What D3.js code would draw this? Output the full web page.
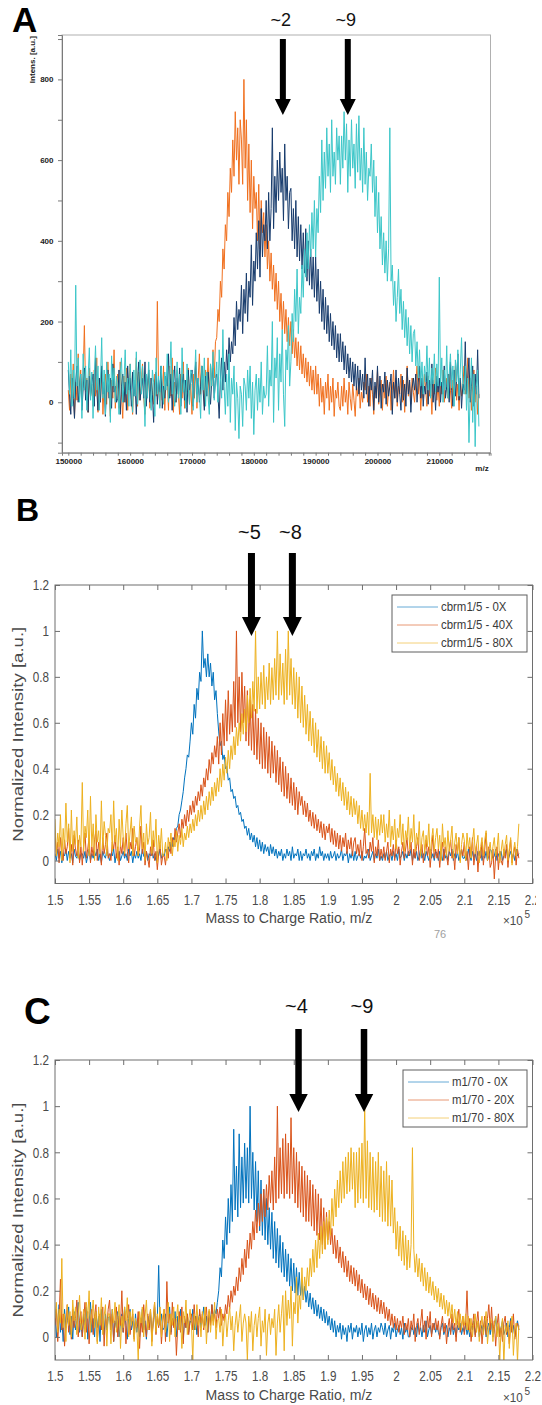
<!DOCTYPE html>
<html>
<head>
<meta charset="utf-8">
<title>Mass spectra</title>
<script src="https://cdn.jsdelivr.net/npm/d3@7"></script>
<style>
  body { margin: 0; background: #fff; }
  svg { display: block; font-family: "Liberation Sans", Arial, sans-serif; }
</style>
</head>
<body>
<svg id="figure" width="542" height="1405"></svg>
<script>
// ---- panel A: m/z grid (step 200) and the three spectra, Intens. [a.u.]
const mzA = d3.range(150000, 216401, 200);
const specOrangeA = [
  30,-20,70,10,95,-35,50,5,120,20,80,-10,65,190,25,60,-25,85,15,45,
  -10,80,15,110,-25,60,5,90,-30,45,70,-5,100,20,-35,55,10,130,-15,40,
  70,-15,100,20,-40,65,0,85,-20,40,95,10,-30,55,20,110,-10,75,5,50,
  95,10,-30,55,20,80,-15,60,30,-5,70,15,250,40,-10,75,5,90,-20,60,
  60,-20,90,15,110,-25,50,0,80,20,-30,70,10,100,-15,55,25,85,-5,45,
  -30,70,10,100,-15,55,120,20,90,60,-10,80,30,110,0,95,40,130,60,150,
  160,230,200,300,260,380,330,440,400,520,460,580,520,650,560,720,600,680,540,700,
  650,540,800,580,700,500,640,470,600,430,560,480,520,400,540,380,500,420,470,360,
  440,330,400,300,370,280,340,250,320,230,300,200,270,180,250,170,230,150,210,140,
  200,120,180,110,160,90,150,80,140,70,120,60,110,50,100,40,90,30,80,20,
  90,20,70,-10,60,0,40,-30,50,10,70,-20,40,0,60,-35,30,10,50,-10,
  -20,40,-10,60,0,30,-30,50,10,-20,45,5,-35,40,15,60,-15,25,0,50,
  30,70,0,40,-10,60,20,-30,40,10,80,-5,35,55,-20,45,10,65,-10,30,
  50,-20,30,80,10,60,-10,40,20,70,0,55,-25,35,90,15,50,-5,60,25,
  0,50,90,20,60,-20,40,10,70,30,-10,65,15,45,-30,55,20,85,5,40,
  -10,50,20,80,0,40,60,10,70,30,-15,55,25,90,5,45,-20,60,15,35,
  90,20,50,110,10,60,-20,40,80,0,55,-30,20];
const specNavyA = [
  80,20,-30,60,10,-40,50,90,0,40,70,-20,35,85,5,55,-25,65,15,45,
  70,-10,110,30,-20,60,0,90,20,50,-35,45,80,10,60,-15,95,25,40,0,
  10,80,-30,40,70,0,50,-20,90,30,60,-10,75,15,45,-30,55,100,5,35,
  60,10,100,-10,40,80,0,60,20,-50,45,75,-5,55,25,90,-15,40,10,65,
  40,120,10,70,-20,50,90,0,60,20,85,-10,45,70,5,55,-25,80,30,50,
  80,-10,50,100,20,60,0,40,90,30,-20,65,15,75,40,-5,55,85,10,60,
  70,20,-40,60,110,30,100,50,130,80,160,100,150,120,210,140,250,180,230,200,
  290,170,280,220,320,200,300,260,390,240,350,300,420,330,450,310,480,360,440,400,
  500,380,520,400,480,680,430,560,470,600,500,620,520,580,450,640,500,560,430,520,
  530,400,480,380,500,360,460,350,440,330,420,320,430,300,400,290,380,280,360,260,
  360,250,330,220,300,200,280,180,260,170,240,150,220,140,200,130,190,110,170,100,
  170,100,150,80,140,70,120,60,110,50,100,40,95,30,90,20,80,30,70,10,
  110,20,70,-10,60,30,80,-20,50,10,90,0,65,-15,45,25,75,-5,55,15,
  40,70,-30,50,10,80,0,60,20,-20,65,5,45,-10,85,20,55,-25,35,60,
  30,70,0,50,90,10,60,-10,40,20,75,-5,55,15,95,0,45,-20,65,25,
  60,0,50,20,90,10,40,70,0,100,30,-10,80,15,55,120,5,60,-15,45,
  30,150,20,60,110,0,40,90,-10,70,20,130,10];
const specCyanA = [
  100,20,130,-10,80,10,290,40,110,0,70,-40,120,30,90,-20,60,135,5,75,
  -40,60,140,30,90,-20,50,160,10,80,-30,100,25,70,-50,115,40,85,0,65,
  30,-30,70,110,0,50,130,20,60,-10,95,35,-25,80,15,125,-5,55,105,20,
  90,40,-60,70,10,100,30,-20,80,50,-35,110,20,65,-15,90,45,-5,75,30,
  120,0,60,150,20,80,-10,40,100,10,70,-30,135,25,55,-15,95,35,-5,80,
  70,-20,50,130,0,60,20,-40,90,30,110,-10,75,15,-30,95,40,125,5,60,
  100,0,130,60,10,180,40,-30,70,-10,120,-50,60,20,90,-70,50,10,-90,40,
  20,-60,60,40,-20,80,10,90,-40,50,-80,30,70,-20,60,0,100,-30,40,10,
  20,140,-10,80,40,200,-50,110,60,160,-20,120,50,180,20,-60,130,80,190,40,
  100,220,150,280,200,330,170,260,220,340,260,380,310,420,330,440,360,470,380,500,
  360,480,420,560,470,650,500,620,530,680,560,640,520,700,560,620,540,680,600,660,
  540,660,580,720,600,690,520,650,560,700,580,640,530,690,570,710,550,630,520,680,
  540,620,500,580,560,640,520,600,460,560,420,520,380,460,340,420,320,400,300,380,
  680,300,340,240,300,200,260,330,220,280,180,250,160,230,140,210,120,190,100,170,
  180,90,150,60,130,40,100,20,90,50,140,30,110,10,85,45,120,25,95,40,
  310,40,110,0,80,30,140,10,70,120,35,90,-10,105,50,130,15,80,160,40,
  20,90,-20,60,-100,30,110,-50,70,-110,40,80,-60];
const arrowMzA = [184700, 195200];
const arrowTextA = ["~2", "~9"];
const xTicksA = d3.range(150000, 218001, 2000);
const yTicksA = d3.range(-100, 901, 100);

// ---- panels B and C: m/z in units of 1e5 (step 0.002), normalized intensity
const mzBC = d3.range(0, 341).map(i => 1.5 + i * 0.002);
const int0xB = [
  0.03,0,0.05,0.01,0.04,-0.01,0.03,0.02,0.05,0,0.04,0.01,0.03,-0.01,0.05,0.02,0.01,0.04,0,0.03,
  0.03,0.01,0.04,-0.01,0.02,0.05,0,0.03,0.01,0.04,0.02,0.05,0,0.03,-0.01,0.04,0.02,0.01,0.05,0.02,
  0,0.03,0.02,0.05,-0.01,0.03,0.01,0.04,0,0.02,0.04,0.01,0.03,0,0.05,0.02,0.04,-0.01,0.03,0.01,
  0.04,0.01,0.03,0,0.05,0.02,0.01,0.04,0,0.03,0.02,0.05,0.01,0.03,0,0.04,0.02,0.05,0.01,0.03,
  0.02,0.05,0.03,0.06,0.04,0.08,0.06,0.1,0.09,0.14,0.15,0.2,0.22,0.26,0.3,0.36,0.4,0.46,0.45,0.52,
  0.6,0.55,0.68,0.62,0.75,0.7,0.82,0.78,1,0.84,0.88,0.8,0.9,0.8,0.86,0.76,0.82,0.7,0.74,0.64,
  0.56,0.5,0.52,0.44,0.46,0.4,0.41,0.35,0.36,0.3,0.31,0.27,0.28,0.23,0.24,0.2,0.21,0.17,0.18,0.14,
  0.15,0.11,0.14,0.09,0.12,0.08,0.11,0.06,0.1,0.05,0.09,0.04,0.08,0.03,0.07,0.04,0.06,0.02,0.07,0.03,
  0.06,0.02,0.05,0.01,0.04,0.02,0.05,0,0.03,0.01,0.05,0.02,0.04,0,0.06,0.01,0.03,0.02,0.05,0,
  0.04,0,0.03,0.02,0.05,0.01,0.03,0,0.04,0.02,0.05,0,0.03,0.01,0.06,0.02,0.04,0,0.03,0.01,
  0.03,0,0.04,0.01,0.02,0.04,0,0.03,0.01,0.02,0.05,0,0.03,0.02,0.04,-0.01,0.03,0.01,0.04,0,
  0.04,0,0.02,0.03,0.01,0.04,0,0.02,0.01,0.03,0.05,0,0.02,0.04,0,0.03,0.01,0.05,0,0.02,
  0,0.03,0.01,0.04,0,0.02,0.03,0,0.04,0.01,0.03,0,0.05,0.01,0.02,0.04,0,0.03,0.01,0.04,
  0.02,0.05,0,0.03,0.01,0.04,0,0.02,0.05,0.01,0.03,0,0.04,0.02,0,0.05,0.01,0.03,0,0.04,
  0.03,0,0.04,0.02,0,0.05,0.01,0.03,0,0.04,0.02,0.05,0,0.03,0.01,0.04,0,0.02,0.05,0.01,
  0.01,0.03,0,0.05,0.02,0,0.04,0.01,0.03,0,0.04,0.02,0.05,0,0.03,0.01,0.04,0,0.02,0.05,
  0.04,0.01,0.02,0.05,0,0.03,0.01,0.04,0,0.02,0.03,0.05,0,0.02,0.04,0.01,0.03,0,0.05,0.02,0.03];
const int40xB = [
  0.12,0.02,0.08,-0.01,0.1,0.04,0,0.09,0.03,0.06,0.14,0.01,0.07,-0.02,0.11,0.05,0.02,0.09,-0.01,0.06,
  -0.02,0.07,0.12,0.01,0.05,0.1,-0.01,0.06,0.02,0.09,0.13,0,0.08,0.04,-0.02,0.1,0.03,0.07,0.12,0.01,
  0.03,0,0.08,0.05,0.11,0.01,0.06,-0.02,0.07,0.03,0.1,0.02,0.12,0.04,-0.01,0.08,0.05,0.14,0.02,0.06,
  0.1,0.02,0.05,0.15,0.03,0.08,-0.02,0.04,0.01,-0.03,0.06,0.02,0.09,0,0.04,-0.04,0.03,0.07,-0.02,0.02,
  0.02,-0.02,0.05,0.01,0.08,0.03,0.1,0.06,0.14,0.08,0.12,0.16,0.1,0.18,0.14,0.2,0.15,0.22,0.17,0.24,
  0.2,0.26,0.21,0.28,0.24,0.3,0.26,0.33,0.28,0.36,0.32,0.4,0.35,0.44,0.38,0.47,0.42,0.5,0.45,0.54,
  0.42,0.6,0.46,0.64,0.5,0.7,0.52,0.74,0.55,0.68,0.56,0.78,0.58,1,0.6,0.8,0.56,0.82,0.6,0.76,
  0.52,0.74,0.5,0.7,0.48,0.68,0.46,0.66,0.44,0.62,0.42,0.6,0.4,0.58,0.4,0.56,0.38,0.54,0.36,0.52,
  0.38,0.5,0.34,0.48,0.33,0.45,0.3,0.43,0.28,0.41,0.27,0.38,0.25,0.36,0.24,0.34,0.22,0.32,0.2,0.3,
  0.24,0.28,0.2,0.26,0.19,0.25,0.17,0.22,0.15,0.21,0.14,0.2,0.13,0.18,0.12,0.17,0.1,0.16,0.09,0.15,
  0.12,0.16,0.08,0.14,0.07,0.13,0.06,0.12,0.05,0.11,0.04,0.1,0.06,0.12,0.03,0.09,0.05,0.1,0.02,0.08,
  0.1,0.03,0.07,0.02,0.09,0,0.06,0.14,0.03,0.05,0.01,0.08,0.04,0.1,-0.01,0.06,0.02,0.09,0,0.05,
  0.01,0.06,0,0.04,0.08,-0.01,0.05,0.02,0.07,0,0.09,0.03,0.06,-0.02,0.04,0.08,0.01,0.05,0.1,0.02,
  0.04,0.08,-0.02,0.05,0.01,0.06,0.1,0,0.03,0.07,-0.01,0.05,0.09,0.02,0.06,-0.03,0.04,0.11,0.01,0.05,
  0.01,0.05,-0.03,0.04,0.08,0,0.06,0.02,-0.02,0.05,0.09,0.01,0.04,-0.04,0.07,0.03,0.1,0,0.05,0.02,
  0.08,0,0.04,-0.04,0.06,0.02,0.1,-0.02,0.03,0.07,-0.05,0.04,0.01,0.08,-0.02,0.05,0.12,0,0.06,-0.03,
  -0.01,0.05,-0.08,0.02,0.06,-0.04,0.04,0,-0.02,0.05,0.01,0.07,-0.03,0.04,0.09,-0.01,0.03,0.06,-0.02,0.05,0.01];
const int80xB = [
  0.18,0.02,0.12,0.06,0.2,0,0.14,0.05,0.25,0.08,0.16,-0.01,0.22,0.04,0.13,0.07,0.19,0.01,0.11,0.06,
  0.34,0.04,0.15,0.1,0.22,0.02,0.28,0.06,0.16,0,0.2,0.08,0.13,0.03,0.26,0.05,0.17,0.11,0.02,0.14,
  0.12,0.2,0.04,0.26,0.08,0.14,0,0.18,0.06,0.22,0.1,0.03,0.16,0.24,0.05,0.12,0.19,0.02,0.15,0.08,
  0.1,0.02,0.15,0.24,0.05,0.12,0,0.16,0.07,0.1,0.21,0.03,0.13,0.06,0.18,-0.01,0.11,0.05,0.14,0.02,
  0.03,0.08,0,0.1,0.05,0.12,0.02,0.09,0.06,0.13,0.04,0.11,0.07,0.14,0.06,0.12,0.09,0.15,0.1,0.16,
  0.12,0.18,0.13,0.2,0.15,0.22,0.17,0.24,0.18,0.26,0.2,0.28,0.22,0.3,0.24,0.32,0.26,0.34,0.28,0.36,
  0.3,0.4,0.32,0.42,0.35,0.45,0.38,0.48,0.4,0.5,0.44,0.54,0.46,0.58,0.5,0.6,0.52,0.64,0.55,0.66,
  0.56,0.72,0.6,0.75,0.62,0.78,0.65,1,0.64,0.8,0.66,0.82,0.68,0.85,0.66,0.8,0.7,0.86,0.68,0.84,
  0.7,0.88,0.72,1,0.7,0.9,0.72,0.86,0.68,0.92,0.7,1,0.72,0.88,0.68,0.84,0.66,0.82,0.62,0.8,
  0.6,0.76,0.58,0.72,0.55,0.68,0.52,0.65,0.5,0.62,0.47,0.6,0.45,0.57,0.43,0.54,0.4,0.52,0.38,0.5,
  0.38,0.47,0.35,0.44,0.33,0.41,0.3,0.38,0.28,0.36,0.26,0.34,0.24,0.32,0.22,0.3,0.2,0.28,0.19,0.27,
  0.2,0.26,0.16,0.24,0.14,0.22,0.13,0.2,0.12,0.21,0.11,0.38,0.12,0.2,0.1,0.19,0.09,0.18,0.11,0.2,
  0.12,0.2,0.08,0.16,0.1,0.22,0.06,0.15,0.09,0.18,0.05,0.14,0.1,0.2,0.07,0.16,0.04,0.13,0.09,0.19,
  0.05,0.14,0.08,0.2,0.04,0.12,0.07,0.17,0.02,0.1,0.13,0.03,0.11,0.06,0.16,0.01,0.09,0.14,0.04,0.1,
  0.14,0.05,0.11,0,0.16,0.06,0.1,0.02,0.13,0.04,0.09,0.15,0.01,0.08,0.12,0.03,0.1,-0.01,0.07,0.12,
  0.09,0,0.12,0.05,0.1,0.01,0.08,0.14,0.03,0.07,0.11,-0.01,0.06,0.1,0.02,0.09,0.13,0,0.05,0.08,
  0,0.06,0.1,0.02,0.05,0.12,-0.01,0.04,0.09,0.02,0.07,0.11,0,0.05,0.1,-0.02,0.04,0.08,0.02,0.06,0.16];
const int0xC = [
  0.1,0,0.06,0.14,0.02,0.08,-0.02,0.12,0.04,0.07,0.13,0.01,0.09,-0.01,0.11,0.03,0.07,0.15,0.02,0.06,
  0,0.1,0.05,0.13,-0.01,0.06,0.15,0.02,0.08,0,0.11,0.04,0.09,-0.02,0.12,0.05,0.01,0.1,0.03,0.08,
  0.09,0.03,0.12,-0.02,0.07,0.04,0.11,0,0.06,0.1,0.02,0.13,0.05,-0.01,0.08,0.12,0.03,0.07,0,0.1,
  0.02,0.08,0,0.05,0.12,0.03,0.07,-0.01,0.09,0.04,0.11,0.01,0.06,0.13,0.02,0.08,0.31,0.05,0.1,0.03,
  0.04,0.1,0,0.07,0.13,0.02,0.08,0.05,0.11,0,0.09,0.03,0.12,0.06,-0.01,0.08,0.04,0.1,0.02,0.07,
  0.06,0.12,0.03,0.09,0.01,0.07,0.1,0.04,0.08,0.13,0.05,0.09,0.02,0.11,0.06,0.14,0.08,0.12,0.1,0.15,
  0.2,0.3,0.26,0.42,0.34,0.52,0.4,0.6,0.45,0.66,0.5,0.9,0.55,0.74,0.52,0.88,0.56,0.78,0.58,0.84,
  0.6,0.82,0.58,1,0.6,0.8,0.55,0.76,0.5,0.72,0.46,0.68,0.44,0.64,0.42,0.6,0.4,0.56,0.38,0.54,
  0.34,0.5,0.32,0.47,0.3,0.44,0.28,0.41,0.26,0.38,0.24,0.36,0.22,0.34,0.2,0.32,0.19,0.3,0.18,0.28,
  0.18,0.24,0.16,0.22,0.15,0.2,0.13,0.19,0.12,0.17,0.1,0.16,0.09,0.14,0.08,0.13,0.07,0.12,0.06,0.11,
  0.05,0.09,0.03,0.08,0.02,0.07,0,0.05,0.02,0.06,-0.01,0.05,0.01,0.04,-0.02,0.05,0.02,0.06,-0.01,0.04,
  0.02,0.05,0,0.04,0.01,0.06,-0.02,0.03,0.05,0,0.04,0.01,0.06,-0.01,0.03,0.05,0,0.04,0.02,0.06,
  0.04,0.01,0.06,0,0.03,0.05,-0.01,0.04,0.02,0.06,0,0.03,0.05,0.01,0.04,-0.01,0.06,0.02,0.04,0,
  0,0.03,0.05,0.01,0.04,0,0.06,0.02,0.04,0,0.05,0.02,0.07,0,0.03,0.05,0.01,0.04,0.06,0.02,
  0.05,0.02,0,0.04,0.06,0.01,0.03,0.05,0,0.04,0.02,0.06,0.01,0.04,0,0.05,0.03,0.06,0.01,0.04,
  0.02,0.06,0.01,0.04,0,0.05,0.03,0.07,0.01,0.04,0.06,0,0.03,0.05,0.02,0.07,0,0.04,0.06,0.01,
  0.06,0,0.03,0.09,0.02,0.05,0,0.04,0.07,0.01,0.03,0.06,0,0.04,0.08,0.02,0.05,0,0.04,0.07,0.03];
const int20xC = [
  0.05,0.12,-0.02,0.08,0.25,0.03,0.1,-0.04,0.06,0.14,0.02,0.09,-0.01,0.12,0.04,0.08,0.16,0,0.07,0.11,
  0,0.08,0.15,0.02,0.11,-0.03,0.07,0.12,0.01,0.09,0.14,-0.02,0.06,0.1,0.03,0.13,-0.04,0.08,0.05,0.12,
  0.16,0.03,0.1,-0.02,0.07,0.13,0,0.09,0.05,0.2,0.02,0.11,-0.03,0.08,0.14,0.01,0.06,0.1,-0.01,0.07,
  0.04,0.11,-0.05,0.08,0.02,0.14,0.06,0,0.1,0.03,0.12,-0.02,0.07,0.15,0.01,0.09,0.04,0.11,-0.03,0.06,
  0.12,-0.02,0.24,0.06,0.1,0.01,0.15,0.04,0.08,-0.08,0.05,0.11,0.02,0.13,-0.03,0.09,0.04,0.1,0.01,0.07,
  0.1,0.03,0.14,0.05,0.09,0,0.12,0.06,0.1,0.03,0.08,0.13,0.02,0.11,0.05,0.14,0.07,0.1,0.04,0.12,
  0.08,0.13,0.05,0.1,0.07,0.14,0.1,0.18,0.12,0.2,0.15,0.22,0.18,0.26,0.2,0.3,0.24,0.34,0.27,0.38,
  0.3,0.42,0.34,0.45,0.38,0.5,0.42,0.55,0.45,0.58,0.48,0.62,0.5,0.64,0.52,0.66,0.55,0.7,0.58,0.72,
  0.55,0.78,0.58,1,0.6,0.82,0.62,0.86,0.6,0.88,0.62,0.84,0.6,0.95,0.62,0.82,0.58,0.8,0.56,0.76,
  0.54,0.74,0.52,0.72,0.5,0.7,0.5,0.68,0.48,0.66,0.46,0.64,0.44,0.62,0.42,0.6,0.4,0.56,0.38,0.54,
  0.42,0.5,0.4,0.47,0.36,0.44,0.34,0.42,0.32,0.39,0.3,0.37,0.28,0.35,0.26,0.33,0.24,0.31,0.23,0.3,
  0.22,0.29,0.2,0.27,0.19,0.25,0.17,0.23,0.16,0.22,0.14,0.21,0.13,0.19,0.12,0.18,0.11,0.17,0.1,0.16,
  0.1,0.15,0.08,0.13,0.07,0.12,0.05,0.1,0.04,0.09,0.03,0.08,0.02,0.07,0.04,0.09,0.01,0.06,0.03,0.08,
  0,0.07,0.03,0.1,-0.02,0.05,0.08,0.01,0.06,0.12,0.02,0.07,-0.01,0.09,0.04,0.11,0,0.06,0.03,0.08,
  0.03,0.07,-0.01,0.05,0.09,0.02,0.06,-0.03,0.04,0.08,0.01,0.1,0.03,0.06,-0.02,0.07,0.12,0.02,0.05,0.09,
  0.01,0.06,0.2,0.03,0.08,-0.02,0.05,0.1,0,0.06,0.11,0.02,0.07,-0.03,0.04,0.09,0.01,0.08,0.14,0.03,
  0.13,0.02,0.07,-0.04,0.05,0.1,0,0.04,-0.02,0.06,0.09,0.01,0.05,-0.03,0.07,0.02,0.1,-0.01,0.04,0.06,0.03];
const int80xC = [
  0.08,0.15,0.02,0.12,0.06,0.34,0.04,0.1,-0.02,0.14,0.05,0.11,0,0.16,0.07,0.13,0.01,0.09,0.18,0.03,
  0.06,0.12,-0.01,0.15,0.08,0.2,0.02,0.1,0.16,0.04,0.11,-0.03,0.13,0.05,0.17,0.01,0.09,0.14,-0.04,0.1,
  0.1,-0.03,0.12,0.06,0.15,0.02,0.08,0.14,-0.05,0.09,0.04,0.13,0.07,0.17,0,0.11,0.05,0.12,-0.02,0.08,
  0.04,-0.1,0.11,0.06,0.13,0,0.09,0.16,0.03,0.07,0.12,-0.04,0.08,0.15,0.02,0.1,0.05,0.13,0,0.09,
  0.12,0.02,0.08,0.15,-0.02,0.1,0.05,0.13,0,0.08,0.14,0.03,0.09,-0.05,0.11,0.06,0.16,0.01,0.07,0.12,
  0.06,-0.1,0.1,0.03,0.14,0.05,0.09,0,0.11,0.04,0.13,-0.03,0.08,0.12,0.02,0.1,0.05,0.15,-0.01,0.07,
  0.08,0.02,0.12,-0.04,0.06,0.1,0,0.07,0.13,0.03,0.09,-0.06,0.05,0.11,0.02,0.08,0.14,-0.02,0.06,0.1,
  0.06,-0.1,0.09,0.02,0.11,-0.06,0.05,0.1,0,0.08,0.13,-0.04,0.07,0.02,0.12,-0.08,0.06,0.1,0.01,0.08,
  0.04,0.12,-0.08,0.06,0.14,0.02,0.1,0.18,-0.06,0.2,0.05,0.16,0.08,0.22,-0.04,0.15,0.1,0.26,0.06,0.18,
  0.12,0.3,0.16,0.26,0.2,0.3,0.22,0.34,0.26,0.38,0.28,0.42,0.3,0.45,0.34,0.48,0.36,0.5,0.38,0.52,
  0.4,0.55,0.44,0.6,0.48,0.64,0.52,0.68,0.56,0.72,0.58,0.76,0.6,0.78,0.62,0.8,0.63,0.82,0.64,0.8,
  0.56,0.8,0.58,0.82,0.6,0.84,0.58,1,0.6,0.85,0.56,0.8,0.55,0.78,0.54,0.76,0.55,0.8,0.52,0.74,
  0.5,0.72,0.5,0.76,0.48,0.7,0.48,0.68,0.45,0.56,0.38,0.5,0.35,0.48,0.33,0.46,0.31,0.44,0.29,0.42,
  0.3,0.4,0.82,0.38,0.28,0.36,0.26,0.34,0.24,0.32,0.22,0.3,0.2,0.28,0.19,0.26,0.18,0.24,0.16,0.22,
  0.15,0.21,0.13,0.19,0.12,0.18,0.1,0.16,0.09,0.15,0.08,0.14,0.06,0.12,0.05,0.11,0.04,0.1,0.03,0.09,
  0.05,0.1,0.03,0.09,0.02,0.08,0,0.06,0.1,0.02,0.07,-0.02,0.05,0.09,0.01,0.06,0.11,-0.03,0.04,0.08,
  0.07,-0.02,0.05,0.09,0,0.06,-0.1,0.04,0.08,-0.12,0.05,0.02,0.07,-0.05,0.04,0.09,-0.08,0.03,0.06,-0.11,0.05];
const legendB = ["cbrm1/5 - 0X", "cbrm1/5 - 40X", "cbrm1/5 - 80X"];
const legendC = ["m1/70 - 0X", "m1/70 - 20X", "m1/70 - 80X"];
const arrowMzB = [1.788, 1.848];
const arrowTextB = ["~5", "~8"];
const arrowMzC = [1.857, 1.953];
const arrowTextC = ["~4", "~9"];
const xTicksBC = d3.range(0, 15).map(i => 1.5 + i * 0.05);
const yTicksBC = d3.range(0, 7).map(i => i * 0.2);

const svg = d3.select("#figure");
const defs = svg.append("defs");
svg.append("rect").attr("width", 542).attr("height", 1405).attr("fill", "#fff");

const brukerColors = ["#f0701f", "#173b6c", "#3cc6c8"];
const matlabColors = ["#0072bd", "#d95319", "#edb120"];

/** Narrow a text horizontally around its own anchor point. */
function squeeze(sel, sx) {
    sel.each(function () {
        let t = d3.select(this);
        let x = +t.attr("x") || 0, y = +t.attr("y") || 0;
        t.attr("transform", `translate(${x},${y}) scale(${sx},1) translate(${-x},${-y})`);
    });
}

function drawSpectrum(g, mz, values, x, y, color, width) {
    g.append("path").datum(values)
        .attr("fill", "none").attr("stroke", color).attr("stroke-width", width)
        .attr("stroke-linejoin", "round")
        .attr("d", d3.line().x((d, i) => x(mz[i])).y(d => y(d)));
}

function drawArrows(g, x, mzs, labels, geo) {
    mzs.forEach((m, i) => {
        let cx = x(m);
        let pts = [[cx - geo.w / 2, geo.top], [cx + geo.w / 2, geo.top], [cx + geo.w / 2, geo.head],
            [cx + geo.hw / 2, geo.head], [cx, geo.tip], [cx - geo.hw / 2, geo.head], [cx - geo.w / 2, geo.head]];
        g.append("path").attr("d", d3.line()(pts) + "Z").attr("fill", "#000");
        g.append("text").attr("x", cx - 2).attr("y", geo.textY).attr("text-anchor", "middle")
            .attr("font-size", geo.fs).attr("fill", "#111").text(labels[i]);
    });
}

function panelLetter(t, x, y, fs) {
    svg.append("text").attr("x", x).attr("y", y).attr("font-size", fs).attr("font-weight", "bold")
        .attr("fill", "#000").text(t);
}

// ---------------- panel A ----------------
function drawPanelA() {
    let xA = d3.scaleLinear().domain([148980, 218280]).range([62, 490.5]);
    let yA = d3.scaleLinear().domain([-125, 910]).range([452.7, 35]);
    let [x0, x1] = xA.range(), [y0, y1] = yA.range();
    let g = svg.append("g");

    defs.append("clipPath").attr("id", "clipA").append("rect")
        .attr("x", x0).attr("y", y1).attr("width", x1 - x0).attr("height", y0 - y1);
    let plot = g.append("g").attr("clip-path", "url(#clipA)");
    [specOrangeA, specNavyA, specCyanA].forEach((s, k) => drawSpectrum(plot, mzA, s, xA, yA, brukerColors[k], 1));

    g.append("rect").attr("x", x0).attr("y", y1).attr("width", x1 - x0).attr("height", y0 - y1)
        .attr("fill", "none").attr("stroke", "#b0b0b0");

    let style = ax => {
        ax.attr("font-size", null).attr("font-family", null);
        ax.select(".domain").attr("stroke", "#7a7a7a");
        ax.selectAll(".tick line").attr("stroke", "#7a7a7a");
        ax.selectAll("text").attr("font-size", 8).attr("font-weight", "bold").attr("fill", "#222");
    };
    g.append("g").attr("transform", `translate(0,${y0})`)
        .call(d3.axisBottom(xA).tickValues(xTicksA).tickSize(3).tickPadding(2.5)
            .tickFormat(d => d % 10000 === 0 ? d : ""))
        .call(style);
    g.append("g").attr("transform", `translate(${x0},0)`)
        .call(d3.axisLeft(yA).tickValues(yTicksA).tickSize(4).tickPadding(4.5)
            .tickFormat(d => d % 200 === 0 ? d : ""))
        .call(style);

    g.append("text").attr("transform", "translate(35,36) rotate(-90)").attr("text-anchor", "end")
        .attr("font-size", 8).attr("font-weight", "bold").attr("fill", "#222").text("Intens. [a.u.]");
    g.append("text").attr("x", 482).attr("y", 471).attr("text-anchor", "middle")
        .attr("font-size", 8).attr("font-weight", "bold").attr("fill", "#222").text("m/z");

    drawArrows(g, xA, arrowMzA, arrowTextA, {top: 39, head: 99, tip: 115, w: 6, hw: 16, textY: 26, fs: 18});
    panelLetter("A", 12, 32, 35);
}

// ---------------- panels B and C (MATLAB style) ----------------
function drawMatlab(p) {
    let x = d3.scaleLinear().domain([1.5, 2.2]).range([55, 532.5]);
    let y = d3.scaleLinear().domain([-0.1, 1.2]).range([p.bottom, p.top]);
    let [x0, x1] = x.range();
    let g = svg.append("g");

    defs.append("clipPath").attr("id", p.id).append("rect")
        .attr("x", x0).attr("y", p.top).attr("width", x1 - x0).attr("height", p.bottom - p.top);
    let plot = g.append("g").attr("clip-path", `url(#${p.id})`);
    p.series.forEach((s, k) => drawSpectrum(plot, mzBC, s, x, y, matlabColors[k], 1));

    let axisCol = "#6e6e6e", textCol = "#4a4a4a";
    let fmt = d => String(+d.toFixed(2));
    let style = ax => {
        ax.attr("font-size", null).attr("font-family", null);
        ax.select(".domain").remove();
        ax.selectAll(".tick line").attr("stroke", axisCol);
        ax.selectAll("text").attr("font-size", 15).attr("fill", textCol);
    };

    let bottomAx = g.append("g").attr("transform", `translate(0,${p.bottom})`)
        .call(d3.axisBottom(x).tickValues(xTicksBC).tickSizeInner(-5).tickSizeOuter(0).tickPadding(10.4).tickFormat(fmt))
        .call(style);
    squeeze(bottomAx.selectAll("text"), 0.78);
    if (p.cropRight) {
        defs.append("clipPath").attr("id", p.id + "lab").append("rect")
            .attr("x", 0).attr("y", -10).attr("width", p.cropRight).attr("height", 40);
        bottomAx.attr("clip-path", `url(#${p.id}lab)`);
    }
    g.append("g").attr("transform", `translate(0,${p.top})`)
        .call(d3.axisTop(x).tickValues(xTicksBC).tickSizeInner(-5).tickSizeOuter(0).tickFormat(""))
        .call(style);
    let leftAx = g.append("g").attr("transform", `translate(${x0},0)`)
        .call(d3.axisLeft(y).tickValues(yTicksBC).tickSizeInner(-5).tickSizeOuter(0).tickPadding(6).tickFormat(fmt))
        .call(style);
    squeeze(leftAx.selectAll("text"), 0.78);
    g.append("g").attr("transform", `translate(${x1},0)`)
        .call(d3.axisRight(y).tickValues(yTicksBC).tickSizeInner(-5).tickSizeOuter(0).tickFormat(""))
        .call(style);

    g.append("rect").attr("x", x0).attr("y", p.top).attr("width", x1 - x0).attr("height", p.bottom - p.top)
        .attr("fill", "none").attr("stroke", axisCol);

    // legend
    let lx = p.legendX, ly = p.top + 10;
    let lg = g.append("g");
    lg.append("rect").attr("x", lx).attr("y", ly).attr("width", 527 - lx).attr("height", 57)
        .attr("fill", "#fff").attr("stroke", "#5e5e5e");
    p.labels.forEach((t, k) => {
        let ry = ly + 12 + k * 18;
        lg.append("line").attr("x1", lx + 5).attr("x2", lx + 46).attr("y1", ry).attr("y2", ry)
            .attr("stroke", matlabColors[k]).attr("stroke-opacity", 0.6);
        let tx = lg.append("text").attr("x", lx + 49).attr("y", ry + 4.5).attr("font-size", 13)
            .attr("fill", "#3a3a3a").text(t);
        squeeze(tx, 0.88);
    });

    // axis labels
    let xl = g.append("text").attr("x", 289).attr("y", p.bottom + 40).attr("text-anchor", "middle")
        .attr("font-size", 15.5).attr("fill", textCol).text("Mass to Charge Ratio, m/z");
    squeeze(xl, 0.91);
    let ex = g.append("text").attr("x", 503).attr("y", p.bottom + 42).attr("font-size", 13)
        .attr("fill", textCol).text("\u00d710");
    squeeze(ex, 0.9);
    g.append("text").attr("x", 524.5).attr("y", p.bottom + 34.5).attr("font-size", 10)
        .attr("fill", textCol).text("5");
    g.append("text").attr("transform", `translate(23,${(p.top + p.bottom) / 2}) rotate(-90)`)
        .attr("text-anchor", "middle").attr("font-size", 15).attr("fill", textCol)
        .attr("textLength", 215).attr("lengthAdjust", "spacingAndGlyphs")
        .text("Normalized Intensity [a.u.]");

    drawArrows(g, x, p.arrowMz, p.arrowText, p.arrow);
    panelLetter(p.letter, p.letterX, p.letterY, p.letterSize);
}

drawPanelA();

drawMatlab({
    id: "clipB", top: 585, bottom: 883.5, series: [int0xB, int40xB, int80xB],
    labels: legendB, legendX: 392, cropRight: 536,
    arrowMz: arrowMzB, arrowText: arrowTextB,
    arrow: {top: 553, head: 617, tip: 636, w: 7, hw: 19, textY: 539, fs: 20},
    letter: "B", letterX: 16, letterY: 521, letterSize: 32
});
svg.append("text").attr("x", 440).attr("y", 937.5).attr("text-anchor", "middle")
    .attr("font-size", 11).attr("fill", "#a0a0a0").text("76");

drawMatlab({
    id: "clipC", top: 1060, bottom: 1360, series: [int0xC, int20xC, int80xC],
    labels: legendC, legendX: 403,
    arrowMz: arrowMzC, arrowText: arrowTextC,
    arrow: {top: 1029, head: 1094, tip: 1112, w: 6.5, hw: 18.5, textY: 1013, fs: 20},
    letter: "C", letterX: 24, letterY: 1024, letterSize: 37
});
</script>
</body>
</html>
